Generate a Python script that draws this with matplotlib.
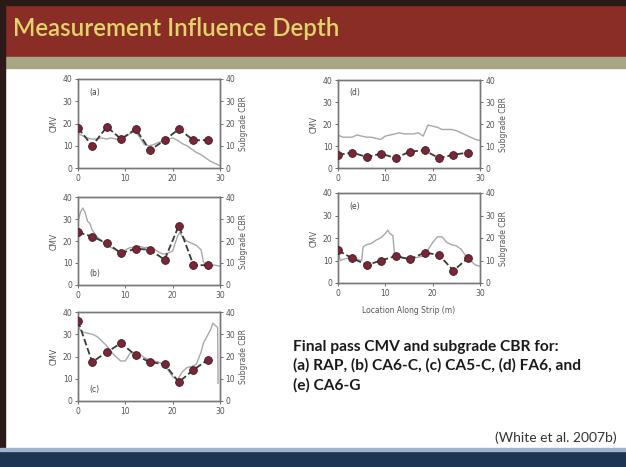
import numpy as np
import matplotlib.pyplot as plt
from matplotlib.patches import Rectangle

# CMV measurements (markers) along the strip [m]
x_cmv = [0, 3, 6.1, 9.1, 12.2, 15.2, 18.3, 21.3, 24.4, 27.4]
cmv_a = [18, 10, 18.5, 13, 17.5, 8, 12.5, 17.5, 12.5, 12.5]
cmv_b = [24, 22, 19, 14.5, 16.5, 16, 11.5, 27, 9, 9]
cmv_c = [36, 17.5, 22, 26, 20.5, 17.5, 16.5, 8.5, 14, 18.5]
cmv_d = [6, 7, 5, 6.5, 4.5, 7.5, 8, 4.5, 6, 7]
cmv_e = [14.5, 11, 8, 10, 12, 10.5, 13.5, 12.5, 5.5, 11]

# Subgrade CBR profiles (grey lines)
x_cbr_a = [0, 1, 2, 3, 4, 5, 6, 7, 8, 9, 10, 11, 12, 13, 14, 15, 16, 17, 18, 19, 20,
           21, 22, 23, 24, 25, 26, 27, 28, 29, 30]
cbr_a = [15.5, 14.5, 13.5, 13, 13, 13.5, 13, 13.5, 13, 12.5, 14, 15.5, 16.5, 14, 10.5, 10,
         10.5, 11.5, 12, 13, 13.5, 12.5, 11, 10, 8.5, 7, 6, 4.5, 3, 2, 1]
x_cbr_b = [0, 0.5, 1, 1.5, 2, 2.5, 3, 4, 5, 6, 7, 8, 9, 10, 11, 12, 13, 14, 15, 16, 17,
           18, 19, 20, 21, 21.5, 22, 23, 24, 25, 26, 26.5, 27, 28, 29, 30]
cbr_b = [29, 33, 35, 33, 29, 28, 25, 22, 20, 18.5, 17, 16, 14, 16, 17, 17, 17.5, 17, 17,
         16.5, 15, 14, 14.5, 15.5, 22, 24, 22, 20, 19, 18, 16, 10.5, 9, 9, 9, 8.5]
x_cbr_c = [0, 1, 2, 3, 4, 5, 6, 7, 8, 9, 10, 11, 12, 13, 14, 15, 16, 17, 18, 19, 20, 21,
           22, 23, 24, 25, 26, 26.5, 27, 28, 28.5, 29, 29.5, 29.6]
cbr_c = [33, 31, 30.5, 30, 29, 27, 25, 22, 20, 18, 18, 21.5, 22, 21, 19.5, 18.5, 18, 17.5,
         16.5, 14, 11, 9.5, 13, 15, 15.5, 16.5, 22, 26, 28, 32, 35, 34, 33, 8]
x_cbr_d = [0, 1, 2, 3, 4, 5, 6, 7, 8, 9, 10, 11, 12, 13, 14, 15, 16, 17, 18, 19, 20, 21,
           22, 23, 24, 25, 26, 27, 28, 29, 30]
cbr_d = [15, 14, 14, 14, 15, 14.5, 14, 14, 13.5, 13, 14.5, 15, 15.5, 16, 15.5, 15.5, 15.5,
         16, 14.5, 19.5, 19, 18.5, 17.5, 17.5, 17.5, 17, 16, 15, 14, 13, 12.5]
x_cbr_e = [0, 0.5, 1, 2, 3, 4, 5, 5.3, 6, 7, 8, 9, 10, 10.5, 11, 11.6, 12, 13, 14, 15, 16,
           17, 18, 18.7, 19.4, 20, 21, 22, 23, 24, 25, 26, 27, 28, 29, 30]
cbr_e = [14, 10, 10.5, 11, 11, 10.5, 10, 16, 17, 17.5, 19, 20, 22, 23.5, 22, 21, 11.5, 11.5,
         11, 11.5, 11, 11.5, 12, 14, 16, 18, 20.5, 20.5, 18, 17, 16.5, 15, 12, 10, 8, 7.5]

panels = [
    # label, cmv, x_cbr, cbr, axes box in px (left, top, right, bottom), label at top?
    ('(a)', cmv_a, x_cbr_a, cbr_a, (78, 79, 220, 168), True),
    ('(b)', cmv_b, x_cbr_b, cbr_b, (78, 197, 220, 285), False),
    ('(c)', cmv_c, x_cbr_c, cbr_c, (78, 312, 220, 401), False),
    ('(d)', cmv_d, x_cbr_d, cbr_d, (338, 80, 480, 168), True),
    ('(e)', cmv_e, x_cbr_e, cbr_e, (338, 193, 480, 283), True),
]

W, H = 626, 467
fig = plt.figure(figsize=(W / 100, H / 100), dpi=100)
fig.patch.set_facecolor('white')

# slide decoration
fig.patches.append(Rectangle((0, 1 - 57 / H), 1, 57 / H, transform=fig.transFigure,
                             color='#8a2d27', zorder=0))
fig.patches.append(Rectangle((0, 1 - 68 / H), 1, 11 / H, transform=fig.transFigure,
                             color='#a9a685', zorder=0))
fig.patches.append(Rectangle((0, 1 - 5 / H), 1, 5 / H, transform=fig.transFigure,
                             color='#2a1a18', zorder=0))
fig.patches.append(Rectangle((0, 0), 5 / W, 1, transform=fig.transFigure,
                             color='#2a1a18', zorder=0))
fig.patches.append(Rectangle((0, 0), 1, 16 / H, transform=fig.transFigure,
                             color='#1d3553', zorder=0))
fig.patches.append(Rectangle((0, 16 / H), 1, 3 / H, transform=fig.transFigure,
                             color='#9fb4cc', zorder=0))
fig.text(13 / W, 1 - 29 / H, 'Measurement Influence Depth', color='#e2d46c',
         fontsize=17.3, family='Lato', fontweight='semibold', va='center', ha='left')

grey = '#777777'
for lab, cmv, xc, cbr, (l, t, r, b), top in panels:
    ax = fig.add_axes([l / W, 1 - b / H, (r - l) / W, (b - t) / H])
    ax2 = ax.twinx()
    ax2.plot(xc, cbr, color='#a8a8a8', lw=1.0, zorder=1)
    ax.plot(x_cmv, cmv, color='#3a3a3a', ls='--', lw=1.3, marker='o', ms=5.6,
            mfc='#7b2638', mec='#3a1a20', mew=0.6, zorder=3)
    ax.set_zorder(ax2.get_zorder() + 1)
    ax.patch.set_visible(False)
    for a in (ax, ax2):
        a.set_xlim(0, 30)
        a.set_ylim(0, 40)
        a.set_yticks([0, 10, 20, 30, 40])
        a.tick_params(labelsize=5.5, colors='#555555', length=2, width=0.6, pad=2)
        for s in a.spines.values():
            s.set_color(grey)
            s.set_linewidth(1.0)
    ax.set_xticks([0, 10, 20, 30])
    ax.set_ylabel('CMV', fontsize=5.5, color='#555555', labelpad=3)
    ax2.set_ylabel('Subgrade CBR', fontsize=5.5, color='#555555', labelpad=3)
    if top:
        ax.text(2.5, 33, lab, fontsize=5.5, color='#444444')
    else:
        ax.text(2.5, 4, lab, fontsize=5.5, color='#444444')
    if lab == '(e)':
        ax.set_xlabel('Location Along Strip (m)', fontsize=5.5, color='#555555', labelpad=6)

fig.text(293 / W, 1 - 340 / H,
         'Final pass CMV and subgrade CBR for:\n(a) RAP, (b) CA6-C, (c) CA5-C, (d) FA6, and\n(e) CA6-G',
         fontsize=11.2, family='Lato', fontweight='bold', color='#1a1a1a',
         va='top', ha='left', linespacing=1.4)
fig.text(617 / W, 1 - 438 / H, '(White et al. 2007b)', fontsize=10, family='Lato',
         color='#333333', ha='right', va='center')

fig.savefig('out.png', dpi=100)
